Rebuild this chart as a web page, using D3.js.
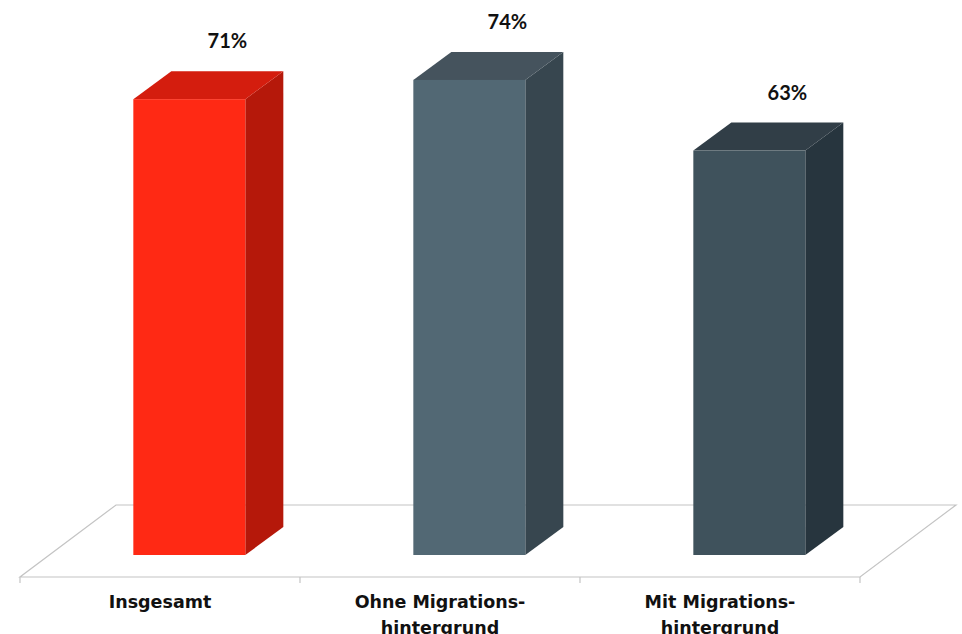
<!DOCTYPE html>
<html>
<head>
<meta charset="utf-8">
<script src="https://cdn.jsdelivr.net/npm/d3@7"></script>
<style>
  html, body { margin: 0; padding: 0; background: #fff; }
  svg { display: block; }
  text { font-weight: 700; fill: #111; }
</style>
</head>
<body>
<svg id="chart" width="962" height="634"></svg>
<script>
// Anteil in Prozent
const categories = [["Insgesamt"], ["Ohne Migrations-", "hintergrund"], ["Mit Migrations-", "hintergrund"]];
const values = [71, 74, 63];
const frontColors = ["#FF2914", "#526874", "#3F525C"];
const topColors = ["#D41D0E", "#45535D", "#313E47"];
const sideColors = ["#B5180A", "#37464F", "#27353E"];

const svg = d3.select("#chart");

// 3D geometry: depth offset along the oblique axis
const floorFront = 577, floorDepthY = 72, floorDepthX = 96;
const barDepthX = 38, barDepthY = 28;
const barOffsetBack = 22; // distance of bar front face behind the floor front edge (in y)
const slope = floorDepthX / floorDepthY;

const x = d3.scaleBand().domain(d3.range(categories.length)).range([20, 860]).padding(0);
const barBase = floorFront - barOffsetBack;
const y = d3.scaleLinear().domain([0, 100]).range([barBase, barBase - 642]);

// floor
const fl = x.range()[0], fr = x.range()[1];
svg.append("path")
  .attr("d", `M${fl},${floorFront} L${fr},${floorFront} L${fr + floorDepthX},${floorFront - floorDepthY} L${fl + floorDepthX},${floorFront - floorDepthY} Z`)
  .attr("fill", "#fff").attr("stroke", "#C4C4C4").attr("stroke-width", 1.2);

// category ticks
svg.append("g").selectAll("line")
  .data(d3.range(categories.length + 1))
  .join("line")
  .attr("x1", i => fl + i * x.step()).attr("x2", i => fl + i * x.step())
  .attr("y1", floorFront).attr("y2", floorFront + 6)
  .attr("stroke", "#C4C4C4").attr("stroke-width", 1.2);

// bars
const barW = x.bandwidth() * 0.4;
const bars = svg.append("g").selectAll("g").data(values).join("g");
bars.each(function (v, i) {
  const g = d3.select(this);
  const x0 = x(i) + (x.bandwidth() - barW) / 2 + barOffsetBack * slope;
  const x1 = x0 + barW;
  const yt = y(v), yb = y(0);
  g.append("path") // side
    .attr("d", `M${x1},${yt} L${x1 + barDepthX},${yt - barDepthY} L${x1 + barDepthX},${yb - barDepthY} L${x1},${yb} Z`)
    .attr("fill", sideColors[i]);
  g.append("path") // top
    .attr("d", `M${x0},${yt} L${x0 + barDepthX},${yt - barDepthY} L${x1 + barDepthX},${yt - barDepthY} L${x1},${yt} Z`)
    .attr("fill", topColors[i]);
  g.append("rect") // front
    .attr("x", x0).attr("y", yt).attr("width", barW).attr("height", yb - yt)
    .attr("fill", frontColors[i]);
  g.append("text")
    .attr("x", (x0 + x1) / 2 + barDepthX)
    .attr("y", yt - barDepthY - 23)
    .attr("text-anchor", "middle")
    .attr("font-family", "Lato, sans-serif")
    .attr("font-size", 20)
    .text(v + "%");
});

// category labels
svg.append("g").selectAll("text")
  .data(categories)
  .join("text")
  .attr("x", (d, i) => x(i) + x.bandwidth() / 2)
  .attr("y", 608)
  .attr("text-anchor", "middle")
  .attr("font-family", "'DejaVu Sans', sans-serif")
  .attr("font-size", 17.5)
  .selectAll("tspan")
  .data(d => d)
  .join("tspan")
  .attr("x", function () { return d3.select(this.parentNode).attr("x"); })
  .attr("dy", (d, j) => j === 0 ? 0 : 26)
  .text(d => d);
</script>
</body>
</html>
